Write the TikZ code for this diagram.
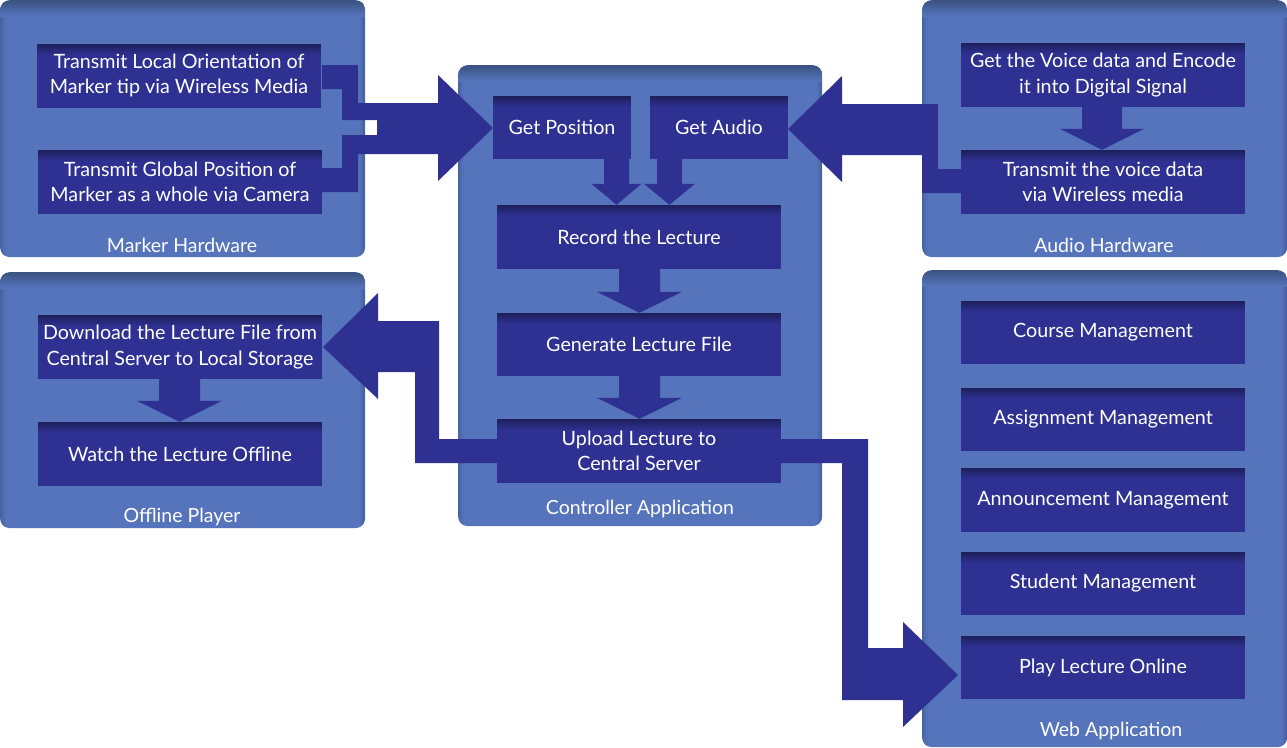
\documentclass[tikz,border=0pt]{standalone}
\usepackage{fontspec}
\setmainfont{Lato}
\usetikzlibrary{calc}
\definecolor{panelc}{RGB}{85,116,187}
\definecolor{paneltop}{RGB}{58,80,128}
\definecolor{boxc}{RGB}{46,49,146}
\definecolor{boxtop}{RGB}{30,31,90}
\tikzset{
  panel/.style={fill=panelc, rounded corners=10pt, anchor=north west, inner sep=0pt,
    path picture={%
      \foreach \i [evaluate=\i as \p using int(50-50*\i/5)] in {0,...,4}{
        \fill[paneltop!\p!panelc, sharp corners]
        ([xshift=\i pt]path picture bounding box.north west) rectangle ([xshift=\i pt+1.3pt]path picture bounding box.south west);
        \fill[paneltop!\p!panelc, sharp corners]
        ([xshift=-\i pt]path picture bounding box.north east) rectangle ([xshift=-\i pt-1.3pt]path picture bounding box.south east);}
      \foreach \i [evaluate=\i as \p using int(100-100*\i/16)] in {0,...,15}{
        \fill[paneltop!\p!panelc, sharp corners]
        ([yshift=-\i pt]path picture bounding box.north west) rectangle ([yshift=-\i pt-1.3pt]path picture bounding box.north east);}}},
  box/.style={fill=boxc, text=white, align=center, inner sep=0pt,
    minimum width=284pt, minimum height=64pt, font=\fontsize{19.7}{25.5}\selectfont,
    path picture={\foreach \i [evaluate=\i as \p using int(100-100*\i/11)] in {0,...,10}{
      \fill[boxtop!\p!boxc]
      ([yshift=-\i pt]path picture bounding box.north west) rectangle ([yshift=-\i pt-1.3pt]path picture bounding box.north east);}}},
  plabel/.style={text=white, font=\fontsize{19.5}{22}\selectfont, inner sep=0pt},
  arr/.style={fill=boxc},
}
\newcommand\bdown[6]{%
  \fill[arr] let \p1=(#1.south), \p2=(#2.north) in
    (#3-#4,\y1) -- (#3+#4,\y1) -- (#3+#4,\y2+#6pt) -- (#3+#5,\y2+#6pt) -- (#3,\y2)
    -- (#3-#5,\y2+#6pt) -- (#3-#4,\y2+#6pt) -- cycle;}
\begin{document}
\begin{tikzpicture}[x=1pt,y=-1pt]
\useasboundingbox (0,0) rectangle (1287,747);
% panels
\node[panel, minimum width=365pt, minimum height=257pt] (mhp) at (0,0) {};
\node[panel, minimum width=365pt, minimum height=256pt] (opp) at (0,272) {};
\node[panel, minimum width=364pt, minimum height=461pt] (cap) at (458,65) {};
\node[panel, minimum width=365pt, minimum height=257pt] (ahp) at (922,0) {};
\node[panel, minimum width=365pt, minimum height=477pt] (wap) at (922,270) {};
\node[plabel] (mhl) at (182,245) {Marker Hardware};
\node[plabel] (opl) at (182,517) {Offline Player};
\node[plabel] (cal) at (640,509) {Controller Application};
\node[plabel] (ahl) at (1104,245) {Audio Hardware};
\node[plabel] (wal) at (1111,731) {Web Application};
% big arrows
\fill[arr] (322,65) -- (358,65) -- (358,103) -- (438,103) -- (438,75) -- (493,128) -- (438,181)
  -- (438,154) -- (358,154) -- (358,192) -- (322,192) -- (322,168) -- (342,168) -- (342,135)
  -- (377,135) -- (377,120) -- (342,120) -- (342,89) -- (322,89) -- cycle;
\fill[arr] (497,439) -- (439,439) -- (439,321) -- (378,321) -- (378,293) -- (323,347) -- (378,399)
  -- (378,372) -- (415,372) -- (415,463) -- (497,463) -- cycle;
\fill[arr] (781,439) -- (868,439) -- (868,648) -- (903,648) -- (903,622) -- (958,675) -- (903,727)
  -- (903,700) -- (842,700) -- (842,463) -- (781,463) -- cycle;
\fill[arr] (788,129) -- (842,76) -- (842,104) -- (938,104) -- (938,169) -- (961,169) -- (961,193)
  -- (922,193) -- (922,155) -- (842,155) -- (842,182) -- cycle;
% boxes
\node[box] (tl) at (179,75.5) {Transmit Local Orientation of\\Marker tip via Wireless Media};
\node[box] (tg) at (180,182) {Transmit Global Position of\\Marker as a whole via Camera};
\node[box, minimum width=138pt, minimum height=63pt] (gpos) at (562,127.5) {Get Position};
\node[box, minimum width=138pt, minimum height=63pt] (gaud) at (719,127.5) {Get Audio};
\node[box] (rec) at (639,237) {Record the Lecture};
\node[box, minimum height=63pt] (gen) at (639,344.5) {Generate Lecture File};
\node[box] (up) at (639,451) {Upload Lecture to\\Central Server};
\node[box] (gv) at (1103,75) {Get the Voice data and Encode\\it into Digital Signal};
\node[box] (tv) at (1103,182) {Transmit the voice data\\via Wireless media};
\node[box] (dl) at (180,347) {Download the Lecture File from\\Central Server to Local Storage};
\node[box] (wt) at (180,454) {Watch the Lecture Offline};
\node[box, minimum height=63pt] (cm) at (1103,332.5) {Course Management};
\node[box, minimum height=63pt] (am) at (1103,419.5) {Assignment Management};
\node[box] (an) at (1103,500) {Announcement Management};
\node[box, minimum height=63pt] (sm) at (1103,583.5) {Student Management};
\node[box, minimum height=63pt] (pl) at (1103,667.5) {Play Lecture Online};
% small arrows
\bdown{gpos}{rec}{616.5}{12.5}{25}{21}
\bdown{gaud}{rec}{669.5}{12.5}{25.5}{21}
\bdown{rec}{gen}{639.5}{20.5}{42.5}{21}
\bdown{gen}{up}{639.5}{20.5}{42.5}{21}
\bdown{gv}{tv}{1102}{20}{42}{21}
\bdown{dl}{wt}{179.5}{20.5}{42.5}{21}
\end{tikzpicture}
\end{document}
